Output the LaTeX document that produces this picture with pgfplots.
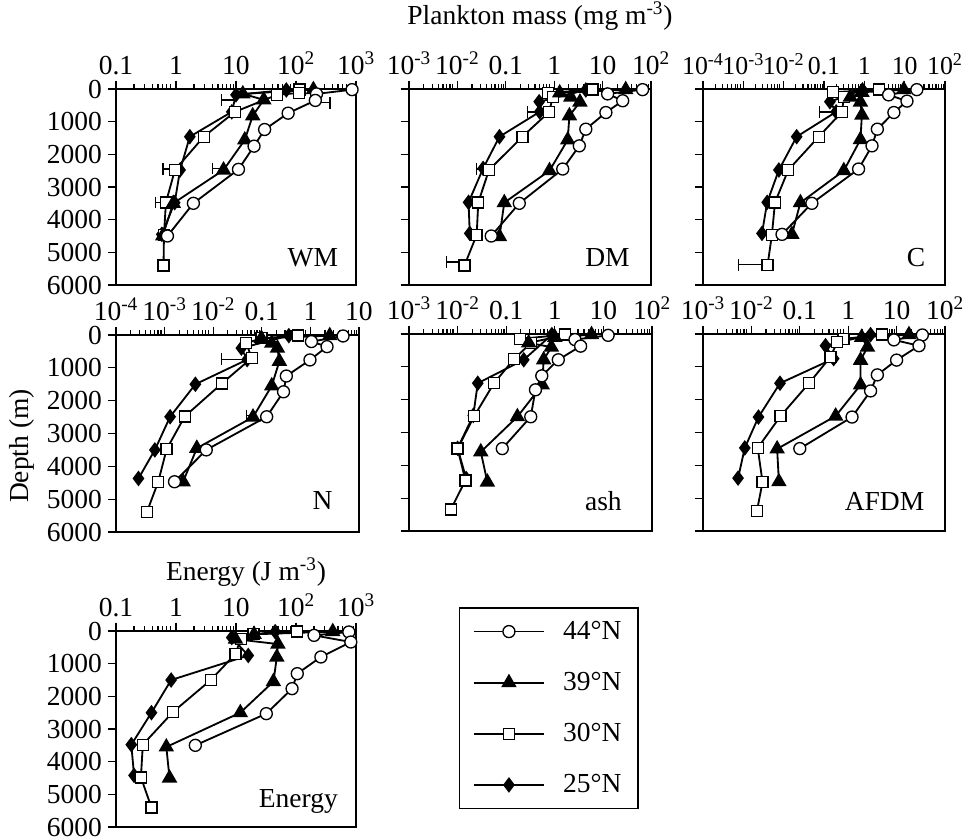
\documentclass[border=0pt]{standalone}
\usepackage{fontspec}
\setmainfont{Liberation Serif}
\usepackage{pgfplots}
\pgfplotsset{compat=1.18}

\newcommand{\fs}{\fontsize{16.5pt}{19pt}\selectfont}
\newcommand{\up}[1]{\textsuperscript{#1}}

\pgfplotsset{
  panel/.style={
    scale only axis, y dir=reverse, ymin=0, ymax=6000,
    ytick={0,1000,...,6000}, yticklabels={,,,,,,},
    xtick pos=right, xticklabel pos=right, ytick pos=left,
    tick align=outside,
    major tick length=5pt, minor tick length=2.8pt,
    every tick/.style={black, line width=0.7pt},
    axis line style={line width=0.9pt},
    tick label style={font=\fs},
    minor xtick={0.0002,0.0003,...,0.0009,0.002,0.003,...,0.009,0.02,0.03,...,0.09,0.2,0.3,...,0.9,2,3,...,9,20,30,...,90,200,300,...,900},
    clip=false,
  },
  leftcol/.style={yticklabels={0,1000,2000,3000,4000,5000,6000}},
  s44/.style={black, line width=1.1pt, mark=*, mark size=3.6pt, mark options={fill=white, line width=0.8pt}},
  s39/.style={black, line width=1.1pt, mark=triangle*, mark size=4.3pt, mark options={fill=black}},
  s30/.style={black, line width=1.1pt, mark=square*, mark size=3.3pt, mark options={fill=white, line width=0.8pt}},
  s25/.style={black, line width=1.1pt, mark=diamond*, mark size=3.8pt, mark options={fill=black}},
  eb/.style={black, line width=0.8pt, mark=|, mark indices={1}, mark size=3.5pt, forget plot},
}

\begin{document}
\begin{tikzpicture}
\useasboundingbox (0,0) rectangle ({970*0.6pt},{-839*0.6pt});

\node[font=\fs] at ({540*0.6pt},{-16*0.6pt}) {Plankton mass (mg m\up{-3})};
\node[font=\fs, rotate=90] at ({22*0.6pt},{-446*0.6pt}) {Depth (m)};
\node[font=\fs] at ({246*0.6pt},{-572*0.6pt}) {Energy (J m\up{-3})};

% WM
\begin{semilogxaxis}[panel, leftcol, at={({116*0.6pt},{-89*0.6pt})}, anchor=north west,
  width={240*0.6pt}, height={196*0.6pt}, xmin=0.1, xmax=1000,
  xtick={0.1,1,10,100,1000}, xticklabels={0.1,1,10,10\up{2},10\up{3}}]
\addplot[s25] coordinates {(69,30) (10,180) (8.5,700) (1.7,1460) (1.17,2480) (0.95,3480) (0.58,4450)};
\addplot[s30] coordinates {(114,20) (112,120) (48,180) (9.6,700) (2.9,1460) (0.96,2480) (0.68,3470) (0.63,4470) (0.62,5400)};
\addplot[s39] coordinates {(195,20) (13,150) (29,330) (19,820) (14,1560) (6.2,2480) (0.9,3500) (0.6,4500)};
\addplot[s44] coordinates {(860,20) (220,150) (210,350) (74,740) (30,1240) (20,1750) (11,2460) (1.95,3500) (0.72,4500)};
\addplot[eb] coordinates {(5.8,340) (10,340)};
\addplot[eb] coordinates {(0.61,2450) (0.85,2450)};
\addplot[eb] coordinates {(4.1,2430) (5.5,2430)};
\addplot[eb] coordinates {(0.45,3470) (0.62,3470)};
\addplot[eb] coordinates {(370,420) (230,420)};
\node[font=\fs] at (rel axis cs:0.82,0.14) {WM};
\end{semilogxaxis}

% DM
\begin{semilogxaxis}[panel, at={({409*0.6pt},{-89*0.6pt})}, anchor=north west,
  width={242*0.6pt}, height={196*0.6pt}, xmin=0.001, xmax=100,
  xtick={0.001,0.01,0.1,1,10,100}, xticklabels={10\up{-3},10\up{-2},0.1,1,10,10\up{2}}]
\addplot[s25] coordinates {(4.5,30) (0.49,390) (0.5,700) (0.074,1460) (0.034,2430) (0.017,3470) (0.018,4420)};
\addplot[s30] coordinates {(6.2,20) (0.74,120) (0.93,250) (0.79,700) (0.22,1460) (0.045,2480) (0.027,3470) (0.025,4470) (0.014,5400)};
\addplot[s39] coordinates {(30,20) (1.3,120) (2.2,250) (3.4,400) (2.06,820) (1.9,1560) (0.8,2500) (0.093,3480) (0.074,4520)};
\addplot[s44] coordinates {(67,20) (12.7,150) (26,360) (11.7,720) (4.5,1230) (3.3,1740) (1.5,2450) (0.19,3500) (0.05,4500)};
\addplot[eb] coordinates {(0.28,700) (0.45,700)};
\addplot[eb] coordinates {(0.025,2450) (0.035,2450)};
\addplot[eb] coordinates {(0.0059,5300) (0.011,5300)};
\node[font=\fs] at (rel axis cs:0.82,0.14) {DM};
\end{semilogxaxis}

% C
\begin{semilogxaxis}[panel, at={({703*0.6pt},{-89*0.6pt})}, anchor=north west,
  width={242*0.6pt}, height={196*0.6pt}, xmin=0.0001, xmax=100,
  xtick={0.0001,0.001,0.01,0.1,1,10,100}, xticklabels={10\up{-4},10\up{-3},10\up{-2},0.1,1,10,10\up{2}},
  xticklabel style={font=\fontsize{15.5pt}{18pt}\selectfont, inner xsep=0pt}]
\addplot[s25] coordinates {(0.9,30) (0.14,390) (0.2,700) (0.021,1460) (0.0076,2480) (0.0039,3470) (0.0029,4420)};
\addplot[s30] coordinates {(2.3,20) (0.17,100) (0.31,250) (0.28,700) (0.074,1460) (0.013,2480) (0.0061,3470) (0.0051,4470) (0.004,5380)};
\addplot[s39] coordinates {(9.5,20) (0.87,100) (0.45,250) (0.8,400) (0.87,800) (0.8,1550) (0.31,2500) (0.026,3480) (0.016,4450)};
\addplot[s44] coordinates {(20,20) (4.0,180) (11.4,370) (5.4,720) (2.1,1230) (1.55,1740) (0.72,2450) (0.05,3500) (0.0091,4450)};
\addplot[eb] coordinates {(0.078,700) (0.16,700)};
\addplot[eb] coordinates {(0.00076,5380) (0.0028,5380)};
\node[font=\fs] at (rel axis cs:0.88,0.14) {C};
\end{semilogxaxis}

% N
\begin{semilogxaxis}[panel, leftcol, at={({116*0.6pt},{-335*0.6pt})}, anchor=north west,
  width={243*0.6pt}, height={197*0.6pt}, xmin=0.0001, xmax=10,
  xtick={0.0001,0.001,0.01,0.1,1,10}, xticklabels={10\up{-4},10\up{-3},10\up{-2},0.1,1,10}]
\addplot[s25] coordinates {(0.36,20) (0.038,400) (0.05,750) (0.0043,1500) (0.0013,2490) (0.00063,3500) (0.00029,4370)};
\addplot[s30] coordinates {(0.56,20) (0.098,100) (0.048,250) (0.062,700) (0.015,1480) (0.0026,2480) (0.0011,3480) (0.00074,4470) (0.00043,5400)};
\addplot[s39] coordinates {(2.5,20) (0.098,100) (0.16,250) (0.21,400) (0.23,800) (0.16,1550) (0.066,2500) (0.0046,3450) (0.0024,4470)};
\addplot[s44] coordinates {(4.7,30) (1.05,200) (2.2,355) (0.98,760) (0.32,1250) (0.28,1730) (0.126,2490) (0.0072,3500) (0.0016,4470)};
\addplot[eb] coordinates {(0.015,740) (0.04,740)};
\addplot[eb] coordinates {(0.049,2450) (0.06,2450)};
\node[font=\fs] at (rel axis cs:0.85,0.16) {N};
\end{semilogxaxis}

% ash
\begin{semilogxaxis}[panel, at={({409*0.6pt},{-334*0.6pt})}, anchor=north west,
  width={243*0.6pt}, height={197*0.6pt}, xmin=0.001, xmax=100,
  xtick={0.001,0.01,0.1,1,10,100}, xticklabels={10\up{-3},10\up{-2},0.1,1,10,10\up{2}}]
\addplot[s25] coordinates {(0.87,20) (0.23,785) (0.026,1500) (0.021,2480) (0.01,3480) (0.015,4400)};
\addplot[s30] coordinates {(1.6,20) (0.19,150) (0.32,280) (0.145,760) (0.056,1500) (0.022,2500) (0.01,3490) (0.0145,4460) (0.0072,5350)};
\addplot[s39] coordinates {(5.7,20) (1.0,100) (0.29,270) (0.85,400) (0.59,785) (0.55,1550) (0.17,2520) (0.03,3590) (0.041,4510)};
\addplot[s44] coordinates {(12.5,40) (2.6,170) (3.4,370) (1.18,785) (0.54,1275) (0.4,1700) (0.32,2520) (0.083,3490)};
\node[font=\fs] at (rel axis cs:0.8,0.15) {ash};
\end{semilogxaxis}

% AFDM
\begin{semilogxaxis}[panel, at={({703*0.6pt},{-334*0.6pt})}, anchor=north west,
  width={242*0.6pt}, height={197*0.6pt}, xmin=0.001, xmax=100,
  xtick={0.001,0.01,0.1,1,10,100}, xticklabels={10\up{-3},10\up{-2},0.1,1,10,10\up{2}}]
\addplot[s25] coordinates {(2.9,20) (0.34,357) (0.5,750) (0.039,1500) (0.014,2530) (0.0073,3470) (0.0053,4390)};
\addplot[s30] coordinates {(5,20) (0.8,150) (0.59,250) (0.43,700) (0.155,1500) (0.04,2500) (0.0135,3470) (0.017,4510) (0.013,5390)};
\addplot[s39] coordinates {(18,20) (1.9,100) (2.5,400) (1.8,800) (1.8,1550) (0.55,2500) (0.034,3500) (0.037,4500)};
\addplot[s44] coordinates {(34,30) (8.8,180) (29,357) (10,795) (4,1245) (2.9,1734) (1.2,2530) (0.1,3490)};
\node[font=\fs] at (rel axis cs:0.75,0.15) {AFDM};
\end{semilogxaxis}

% Energy
\begin{semilogxaxis}[panel, leftcol, at={({116*0.6pt},{-631*0.6pt})}, anchor=north west,
  width={240*0.6pt}, height={196*0.6pt}, xmin=0.1, xmax=1000,
  xtick={0.1,1,10,100,1000}, xticklabels={0.1,1,10,10\up{2},10\up{3}},
  reverse legend,
  legend style={at={(1.429,1.122)}, anchor=north west, draw=black, line width=0.9pt,
    font=\fs, row sep=14.2pt, inner xsep=8pt, inner ysep=6pt,
    /tikz/every odd column/.append style={column sep=9pt}},
  legend cell align=left,
  legend image code/.code={
    \draw[black, line width=1.1pt] (0pt,0pt) -- (42pt,0pt);
    \path[#1] plot coordinates {(21pt,0pt)};}]
\addplot[s25] coordinates {(45,20) (8.5,200) (16,750) (0.83,1500) (0.39,2500) (0.18,3480) (0.2,4420)};
\addplot[s30] coordinates {(105,20) (19.5,100) (12,250) (9.8,700) (3.8,1500) (0.89,2480) (0.28,3480) (0.26,4480) (0.39,5400)};
\addplot[s39] coordinates {(410,20) (20,100) (9.8,250) (50,400) (48,800) (42,1550) (11.8,2500) (0.69,3550) (0.78,4500)};
\addplot[s44] coordinates {(760,30) (200,133) (820,337) (260,795) (105,1306) (86,1765) (32,2530) (2.1,3500)};
\legend{25°N,30°N,39°N,44°N}
\node[font=\fs] at (rel axis cs:0.76,0.13) {Energy};
\end{semilogxaxis}
\end{tikzpicture}
\end{document}
